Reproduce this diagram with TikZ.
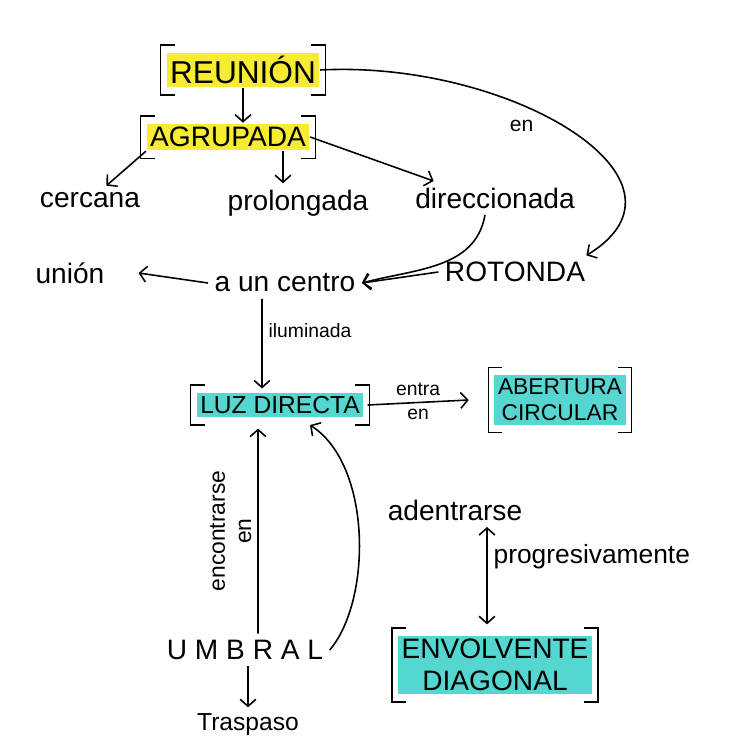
\documentclass[tikz,border=0pt]{standalone}
\usepackage{fontspec}
\setmainfont{Liberation Sans}
\usepackage{tikz}
\usetikzlibrary{calc}
\usetikzlibrary{positioning}
\usetikzlibrary{arrows.meta}

\definecolor{hlyellow}{RGB}{248,236,50}
\definecolor{hlcyan}{RGB}{86,214,208}

% square brackets round a named node
\newcommand{\brk}[1]{%
  \draw[line width=0.9pt] ([shift={(5pt,4pt)}]#1.north west) -- ++(-8pt,0)
    -- ([shift={(-3pt,-4pt)}]#1.south west) -- ++(8pt,0);
  \draw[line width=0.9pt] ([shift={(-5pt,4pt)}]#1.north east) -- ++(8pt,0)
    -- ([shift={(3pt,-4pt)}]#1.south east) -- ++(-8pt,0);
}

\begin{document}
\begin{tikzpicture}[line width=0.9pt, >={Straight Barb[length=4pt,width=9pt]},
  concept/.style={font=\fontsize{16}{18}\selectfont},
  lbl/.style={font=\fontsize{11}{13}\selectfont},
  yel/.style={fill=hlyellow, inner sep=2pt},
  cya/.style={fill=hlcyan, inner sep=2pt, align=center}]
  \useasboundingbox (0,0) rectangle (14.6,-14.94);

  % key concepts
  \node[yel, font=\fontsize{18}{20}\selectfont] (reunion) at (4.86,-1.40) {REUNIÓN};
  \node[yel, font=\fontsize{16}{18}\selectfont] (agrupada) at (4.56,-2.74) {AGRUPADA};
  \node[cya, font=\fontsize{14}{16}\selectfont] (luz) at (5.6,-8.1) {LUZ DIRECTA};
  \node[cya, font=\fontsize{13}{15}\selectfont] (abertura) at (11.2,-8.0) {ABERTURA\\CIRCULAR};
  \node[cya, font=\fontsize{16}{18}\selectfont] (envolvente) at (9.9,-13.3) {ENVOLVENTE\\DIAGONAL};
  \brk{reunion}
  \brk{agrupada}
  \brk{luz}
  \brk{abertura}
  \brk{envolvente}

  % other concepts
  \node[concept] (cercana) at (1.8,-4.0) {cercana};
  \node[concept] (prolongada) at (5.96,-4.06) {prolongada};
  \node[concept] (direccionada) at (9.9,-3.96) {direccionada};
  \node[concept] (union) at (1.4,-5.46) {unión};
  \node[concept] (centro) at (5.7,-5.66) {a un centro};
  \node[concept] (rotonda) at (10.3,-5.44) {ROTONDA};
  \node[concept] (adentrarse) at (9.1,-10.2) {adentrarse};
  \node[concept] (umbral) at (4.9,-13.0) {U M B R A L};
  \node[concept, font=\fontsize{14}{16}\selectfont] (traspaso) at (4.96,-14.5) {Traspaso};

  % top part
  \draw[->] (reunion.south) -- (reunion.south |- agrupada.north);
  \draw[->] (agrupada.south west) -- (cercana);
  \draw[->] ([xshift=1.1cm]agrupada.south) -- ([xshift=-0.3cm]prolongada.north);
  \draw[->] (agrupada.east) -- ([xshift=0.5cm]direccionada.north west);
  \draw[->] (reunion.east) .. controls (10.2,-1.2) and (14.2,-3.6) .. ([xshift=-3pt]rotonda.north east)
    node[pos=0.42, below left=0pt, font=\fontsize{12}{14}\selectfont] {en};
  \draw[->] ([xshift=-0.2cm]direccionada.south) to[out=-100,in=15] (centro.east);
  \draw[->] (rotonda.west) -- (centro.east);
  \draw[->] (centro.west) -- ([xshift=0.55cm]union.east);

  % middle part
  \draw[->] ([xshift=-0.46cm]centro.south) -- ([xshift=-0.36cm,yshift=2pt]luz.north)
    node[pos=0.35, right, lbl] {iluminada};
  \draw[->] ([xshift=2pt]luz.east) -- ([xshift=-0.5cm]abertura.west)
    node[midway, above, lbl] {entra} node[midway, below, lbl] {en};

  % bottom part
  \draw[->] ([xshift=0.26cm]umbral.north) -- ([xshift=-0.44cm,yshift=-6pt]luz.south)
    node[midway, sloped, above, align=center, font=\fontsize{13}{15}\selectfont] {encontrarse\\en};
  \draw[->] (umbral.east) .. controls (7.44,-12.0) and (7.44,-9.3) .. ([xshift=0.6cm,yshift=-4pt]luz.south);
  \draw[<->] ([xshift=0.64cm]adentrarse.south) -- ([xshift=-0.16cm,yshift=6pt]envolvente.north)
    node[pos=0.3, right, font=\fontsize{15}{17}\selectfont] {progresivamente};
  \draw[->] (traspaso.north |- umbral.south) -- (traspaso.north);
\end{tikzpicture}
\end{document}
